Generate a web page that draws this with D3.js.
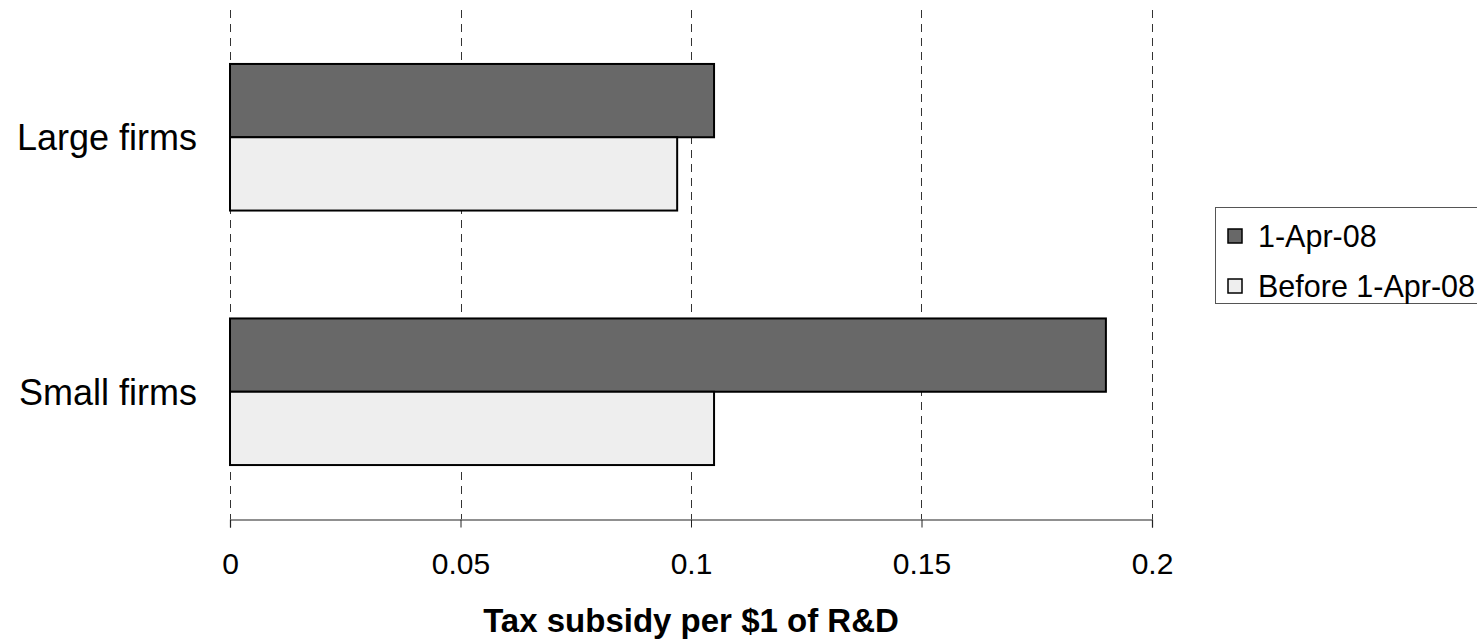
<!DOCTYPE html>
<html>
<head>
<meta charset="utf-8">
<script src="https://cdn.jsdelivr.net/npm/d3@7"></script>
<style>
  html, body { margin: 0; padding: 0; background: #fff; }
  svg { display: block; font-family: "Liberation Sans", Arial, sans-serif; }
</style>
</head>
<body>
<svg id="chart" width="1477" height="641"></svg>
<script>
// Tax subsidy per $1 of R&D, by firm size
const categories = ["Large firms", "Small firms"];
const seriesNames = ["1-Apr-08", "Before 1-Apr-08"];
const afterApr08 = [0.105, 0.190];
const beforeApr08 = [0.097, 0.105];
const xTicks = [0, 0.05, 0.1, 0.15, 0.2];
const xTickLabels = ["0", "0.05", "0.1", "0.15", "0.2"];
const axisTitle = "Tax subsidy per $1 of R&D";

const fills = ["#686868", "#eeeeee"];

const svg = d3.select("#chart");
const plot = { left: 230, right: 1152, top: 10, bottom: 519 };

const x = d3.scaleLinear().domain([0, 0.2]).range([plot.left, plot.right]);
const y = d3.scaleBand().domain(categories)
  .range([plot.top, plot.bottom])
  .paddingInner(0.424).paddingOuter(0.212);
const ySub = d3.scaleBand().domain(seriesNames).range([0, y.bandwidth()]);

const rows = categories.map((c, i) => ({
  category: c,
  values: [
    { series: seriesNames[0], value: afterApr08[i], fill: fills[0] },
    { series: seriesNames[1], value: beforeApr08[i], fill: fills[1] }
  ]
}));

// dashed vertical gridlines
svg.append("g")
  .selectAll("line")
  .data(xTicks)
  .join("line")
  .attr("x1", d => Math.round(x(d)) + 0.5)
  .attr("x2", d => Math.round(x(d)) + 0.5)
  .attr("y1", plot.top)
  .attr("y2", plot.bottom)
  .attr("stroke", "#333")
  .attr("stroke-width", 1)
  .attr("stroke-dasharray", "8,6");

// bars
const groups = svg.append("g")
  .selectAll("g")
  .data(rows)
  .join("g")
  .attr("transform", d => `translate(0,${y(d.category)})`);

groups.selectAll("rect")
  .data(d => d.values)
  .join("rect")
  .attr("x", x(0))
  .attr("y", d => ySub(d.series))
  .attr("width", d => x(d.value) - x(0))
  .attr("height", ySub.bandwidth())
  .attr("fill", d => d.fill)
  .attr("stroke", "#000")
  .attr("stroke-width", 2);

// bottom axis
const xAxis = d3.axisBottom(x)
  .tickValues(xTicks)
  .tickFormat((d, i) => xTickLabels[i])
  .tickSizeInner(8)
  .tickSizeOuter(8)
  .tickPadding(25);

const gx = svg.append("g")
  .attr("transform", `translate(0,${plot.bottom + 0.5})`)
  .call(xAxis);
gx.select(".domain").attr("stroke", "#222").attr("stroke-width", 1.2);
gx.selectAll(".tick line").attr("stroke", "#222");
gx.selectAll(".tick text")
  .attr("fill", "#000")
  .attr("font-size", 30)
  .attr("font-family", "'Liberation Sans', Arial, sans-serif");

// category labels
svg.append("g")
  .selectAll("text")
  .data(categories)
  .join("text")
  .attr("x", 197)
  .attr("y", d => y(d) + y.bandwidth() / 2)
  .attr("dy", "0.36em")
  .attr("text-anchor", "end")
  .attr("font-size", 36)
  .attr("fill", "#000")
  .text(d => d);

// axis title
svg.append("text")
  .attr("x", (plot.left + plot.right) / 2)
  .attr("y", 632)
  .attr("text-anchor", "middle")
  .attr("font-size", 33)
  .attr("font-weight", "bold")
  .attr("fill", "#000")
  .text(axisTitle);

// legend
const legend = svg.append("g").attr("transform", "translate(1215,207)");
legend.append("rect")
  .attr("x", 0.5).attr("y", 0.5)
  .attr("width", 320).attr("height", 96)
  .attr("fill", "#fff")
  .attr("stroke", "#555")
  .attr("stroke-width", 1);

const items = legend.selectAll("g.item")
  .data(seriesNames)
  .join("g")
  .attr("class", "item")
  .attr("transform", (d, i) => `translate(0,${29 + i * 50})`);

items.append("rect")
  .attr("x", 13).attr("y", -7)
  .attr("width", 14).attr("height", 14)
  .attr("fill", (d, i) => fills[i])
  .attr("stroke", "#000")
  .attr("stroke-width", 1.5);

items.append("text")
  .attr("x", 43)
  .attr("y", 0)
  .attr("dy", "0.35em")
  .attr("font-size", 30.5)
  .attr("fill", "#000")
  .text(d => d);
</script>
</body>
</html>
